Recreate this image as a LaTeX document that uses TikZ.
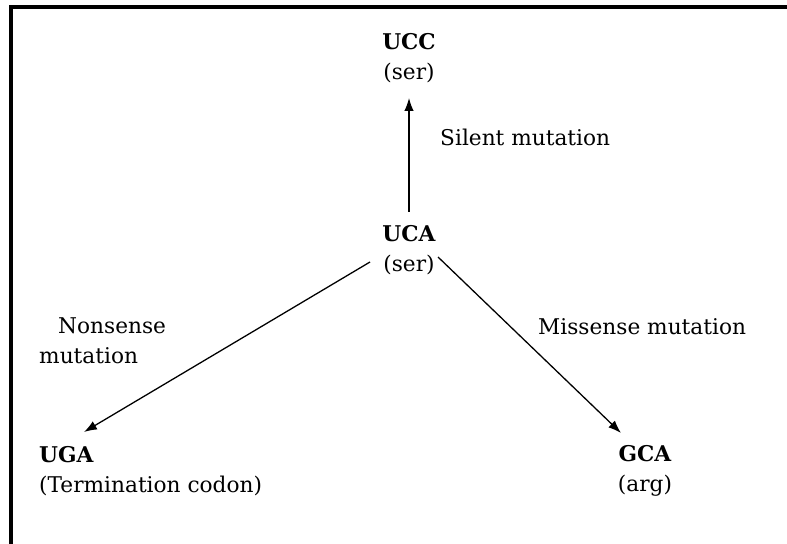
\documentclass[tikz,border=0pt]{standalone}
\usepackage{fontspec}
\setmainfont{DejaVu Serif}
\usetikzlibrary{arrows.meta,positioning}

\tikzset{
  codon/.style={align=center, inner sep=0pt},
  arr/.style={line width=1.1pt, -{Latex[length=11pt,width=8pt]}},
  mutlabel/.style={anchor=west, align=left, inner sep=0pt}
}

\begin{document}
\begin{tikzpicture}[x=0.03cm, y=-0.03cm, font=\fontsize{18.5}{26}\selectfont]
	\useasboundingbox (0,0) rectangle (787,544);
	%FRAME
	\draw[line width=2.6pt] (11,544) -- (11,7) -- (787,7);

	%CODONS
	\node[codon] (ucc) at (409,58) {\textbf{UCC}\\(ser)};
	\node[codon] (uca) at (409,250) {\textbf{UCA}\\(ser)};
	\node[codon, anchor=west, align=left] (uga) at (39,471) {\textbf{UGA}\\(Termination codon)};
	\node[codon] (gca) at (645,471) {\textbf{GCA}\\(arg)};

	%ARROWS
	\draw[arr] ([shift={(0,-38)}]uca.center) -- ([shift={(0,40)}]ucc.center);
	\draw[arr] ([shift={(-39,12)}]uca.center) -- ([shift={(45,-39)}]uga.west);
	\draw[arr] ([shift={(29,7)}]uca.center) -- ([shift={(-24,-38)}]gca.center);

	%LABELS
	\node[mutlabel] (silent) at (440,137) {Silent mutation};
	\node[mutlabel] (nonsense) at (39,341) {\hspace*{0.57cm}Nonsense\\mutation};
	\node[mutlabel] (missense) at (538,327) {Missense mutation};
\end{tikzpicture}
\end{document}
